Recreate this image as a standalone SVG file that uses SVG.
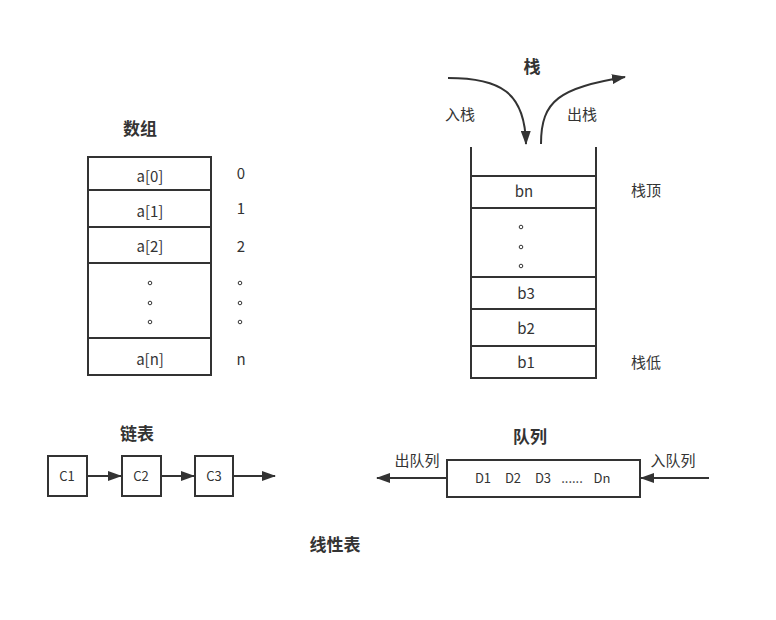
<svg xmlns="http://www.w3.org/2000/svg" width="776" height="620" viewBox="0 0 776 620">
<defs>
<marker id="ah" viewBox="0 0 14 10" refX="13" refY="5" markerWidth="7" markerHeight="5" orient="auto" markerUnits="strokeWidth">
<path d="M0,0 L14,5 L0,10 z" fill="#333"/>
</marker>
<style>
.t{font-family:"Noto Sans CJK SC","Noto Sans",sans-serif;font-size:15px;fill:#333;text-anchor:middle;dominant-baseline:central}
.b{font-family:"Noto Sans CJK SC","Noto Sans",sans-serif;font-size:17px;font-weight:bold;fill:#333;text-anchor:middle;dominant-baseline:central}
.s{font-size:13px}
.box{fill:#fff;stroke:#333;stroke-width:2}
.ln{fill:none;stroke:#333;stroke-width:2}
.dot{fill:none;stroke:#333;stroke-width:1}
</style>
</defs>
<rect width="776" height="620" fill="#fff"/>

<g id="array">
<text class="b" x="140" y="127">数组</text>
<rect class="box" x="88" y="157" width="123" height="218"/>
<line class="ln" x1="88" y1="190" x2="211" y2="190"/>
<line class="ln" x1="88" y1="227" x2="211" y2="227"/>
<line class="ln" x1="88" y1="263" x2="211" y2="263"/>
<line class="ln" x1="88" y1="338" x2="211" y2="338"/>
<text class="t" x="150" y="175">a[0]</text>
<text class="t" x="150" y="210">a[1]</text>
<text class="t" x="150" y="245">a[2]</text>
<text class="t" x="150" y="358">a[n]</text>
<circle class="dot" cx="150" cy="283" r="1.8"/>
<circle class="dot" cx="150" cy="303" r="1.8"/>
<circle class="dot" cx="150" cy="322" r="1.8"/>
<text class="t" x="241" y="172">0</text>
<text class="t" x="241" y="207">1</text>
<text class="t" x="241" y="245">2</text>
<circle class="dot" cx="240" cy="283" r="1.8"/>
<circle class="dot" cx="240" cy="303" r="1.8"/>
<circle class="dot" cx="240" cy="322" r="1.8"/>
<text class="t" x="241" y="358">n</text>
</g>

<g id="stack">
<text class="b" x="532" y="65">栈</text>
<text class="t" x="460" y="113">入栈</text>
<text class="t" x="582" y="113">出栈</text>
<line class="ln" x1="471" y1="147" x2="471" y2="378"/>
<line class="ln" x1="596" y1="147" x2="596" y2="378"/>
<line class="ln" x1="471" y1="176" x2="596" y2="176"/>
<line class="ln" x1="471" y1="208" x2="596" y2="208"/>
<line class="ln" x1="471" y1="277" x2="596" y2="277"/>
<line class="ln" x1="471" y1="309" x2="596" y2="309"/>
<line class="ln" x1="471" y1="346" x2="596" y2="346"/>
<line class="ln" x1="470" y1="378" x2="597" y2="378"/>
<text class="t" x="524" y="190">bn</text>
<circle class="dot" cx="521" cy="227" r="1.8"/>
<circle class="dot" cx="521" cy="247" r="1.8"/>
<circle class="dot" cx="521" cy="266" r="1.8"/>
<text class="t" x="526" y="292">b3</text>
<text class="t" x="526" y="327">b2</text>
<text class="t" x="526" y="361">b1</text>
<text class="t" x="646" y="189">栈顶</text>
<text class="t" x="646" y="361">栈低</text>
</g>

<g id="linkedlist">
<text class="b" x="137" y="432">链表</text>
<rect class="box" x="48" y="456" width="39" height="40"/>
<rect class="box" x="122" y="456" width="39" height="40"/>
<rect class="box" x="195" y="456" width="38" height="40"/>
<text class="t s" x="67" y="475">C1</text>
<text class="t s" x="141" y="475">C2</text>
<text class="t s" x="214" y="475">C3</text>
</g>

<g id="queue">
<text class="b" x="530" y="435">队列</text>
<text class="t" x="417" y="459">出队列</text>
<text class="t" x="673" y="459">入队列</text>
<rect class="box" x="447" y="460" width="193" height="37"/>
<text class="t s" x="483" y="477">D1</text>
<text class="t s" x="513" y="477">D2</text>
<text class="t s" x="543" y="477">D3</text>
<text class="t s" x="572" y="477">......</text>
<text class="t s" x="602" y="477">Dn</text>
</g>

<g id="title">
<text class="b" x="335" y="543">线性表</text>
</g>

<g id="connectors">
<path class="ln" d="M448,78 C500,78 525,92 526,144" marker-end="url(#ah)"/>
<path class="ln" d="M541,144 C541,100 560,88 625,77" marker-end="url(#ah)"/>
<line class="ln" x1="87" y1="476" x2="121" y2="476" marker-end="url(#ah)"/>
<line class="ln" x1="161" y1="476" x2="194" y2="476" marker-end="url(#ah)"/>
<line class="ln" x1="233" y1="476" x2="275" y2="476" marker-end="url(#ah)"/>
<line class="ln" x1="447" y1="478" x2="377" y2="478" marker-end="url(#ah)"/>
<line class="ln" x1="709" y1="478" x2="641" y2="478" marker-end="url(#ah)"/>
</g>
</svg>
